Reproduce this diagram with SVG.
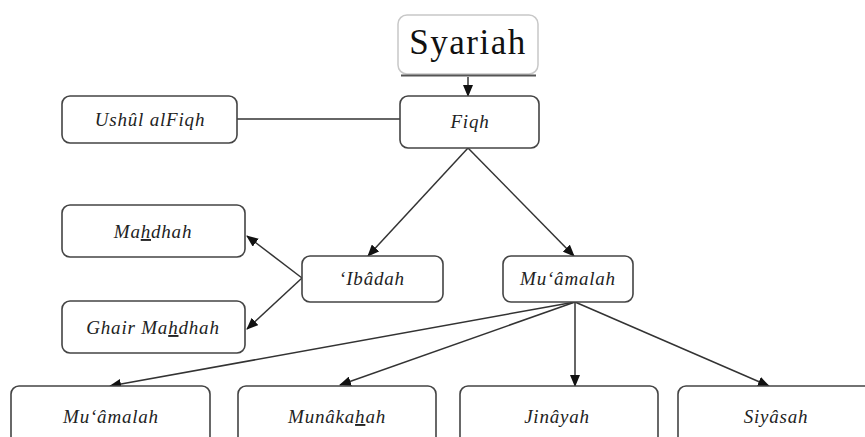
<svg xmlns="http://www.w3.org/2000/svg" width="865" height="437" viewBox="0 0 865 437">
<style>
.box{fill:#fff;stroke:#444;stroke-width:1.6}
.lbl{font-family:"Liberation Serif",serif;font-style:italic;font-size:19px;fill:#222;text-anchor:middle;letter-spacing:0.8px}
.u{text-decoration:underline}
.c{stroke:#333;stroke-width:1.5;fill:none}
.a{marker-end:url(#arr)}
</style>
<defs>
<marker id="arr" markerWidth="12" markerHeight="10" refX="11" refY="5" orient="auto" markerUnits="userSpaceOnUse">
<path d="M0,0 L12,5 L0,10 Z" fill="#111"/>
</marker>
</defs>
<rect width="865" height="437" fill="#fff"/>
<g id="connectors">
<line class="c a" x1="468" y1="77" x2="468" y2="96"/>
<line class="c" x1="237" y1="119" x2="400" y2="119"/>
<line class="c a" x1="468" y1="148" x2="368" y2="256"/>
<line class="c a" x1="468" y1="148" x2="574" y2="256"/>
<line class="c a" x1="302" y1="278" x2="247" y2="236"/>
<line class="c a" x1="302" y1="278" x2="247" y2="329"/>
<line class="c a" x1="575" y1="302" x2="110" y2="386"/>
<line class="c a" x1="575" y1="302" x2="340" y2="385"/>
<line class="c a" x1="575" y1="302" x2="575" y2="386"/>
<line class="c a" x1="575" y1="302" x2="769" y2="386"/>
</g>
<g id="syariah">
<rect x="398" y="15" width="140" height="59" rx="9" fill="#fff" stroke="#c8c8c8" stroke-width="1.5"/>
<line x1="401" y1="75.5" x2="536" y2="75.5" stroke="#555" stroke-width="2"/>
<text x="468" y="54" font-family="Liberation Serif,serif" font-size="35" fill="#111" text-anchor="middle" letter-spacing="1.5">Syariah</text>
</g>
<g id="fiqh">
<rect class="box" x="400" y="96" width="139" height="52" rx="8"/>
<text class="lbl" x="470" y="128">Fiqh</text>
</g>
<g id="ushul">
<rect class="box" x="62" y="96" width="175" height="47" rx="8"/>
<text class="lbl" x="150" y="126">Ushûl alFiqh</text>
</g>
<g id="mahdhah">
<rect class="box" x="62" y="205" width="183" height="52" rx="8"/>
<text class="lbl" x="153" y="238">Ma<tspan class="u">h</tspan>dhah</text>
</g>
<g id="ghair">
<rect class="box" x="62" y="301" width="183" height="52" rx="8"/>
<text class="lbl" x="153" y="334">Ghair Ma<tspan class="u">h</tspan>dhah</text>
</g>
<g id="ibadah">
<rect class="box" x="302" y="256" width="141" height="46" rx="8"/>
<text class="lbl" x="372" y="285">‘Ibâdah</text>
</g>
<g id="muamalah1">
<rect class="box" x="503" y="256" width="130" height="46" rx="8"/>
<text class="lbl" x="568" y="285">Mu‘âmalah</text>
</g>
<g id="muamalah2">
<rect class="box" x="11" y="386" width="199" height="70" rx="8"/>
<text class="lbl" x="111" y="423">Mu‘âmalah</text>
</g>
<g id="munakahah">
<rect class="box" x="238" y="386" width="198" height="70" rx="8"/>
<text class="lbl" x="337" y="423">Munâka<tspan class="u">h</tspan>ah</text>
</g>
<g id="jinayah">
<rect class="box" x="460" y="386" width="198" height="70" rx="8"/>
<text class="lbl" x="557" y="423">Jinâyah</text>
</g>
<g id="siyasah">
<rect class="box" x="678" y="386" width="200" height="70" rx="8"/>
<text class="lbl" x="776" y="423">Siyâsah</text>
</g>
</svg>
